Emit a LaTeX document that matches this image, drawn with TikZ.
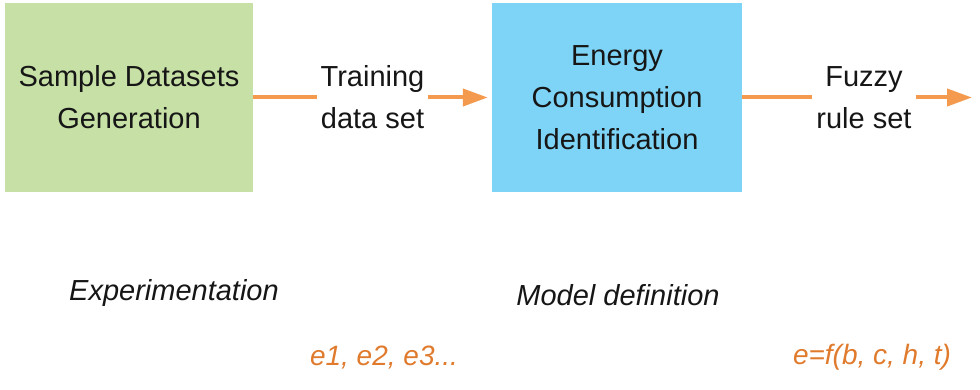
\documentclass[tikz,border=0pt]{standalone}
\usepackage{fontspec}
\setmainfont{Liberation Sans}
\usetikzlibrary{arrows.meta}

\definecolor{boxgreen}{HTML}{C6E0A6}
\definecolor{boxblue}{HTML}{7ED4F6}
\definecolor{flowline}{HTML}{F39A4E}
\definecolor{notetext}{HTML}{E07A2C}
\definecolor{ink}{HTML}{161616}

\tikzset{
  stage/.style={minimum height=189pt, inner sep=0pt, align=center,
    text=ink, font=\fontsize{29}{42}\selectfont},
  flow/.style={line width=4pt, draw=flowline,
    -{Triangle[length=25pt,width=17pt]}},
  flowlabel/.style={fill=white, inner xsep=4pt, inner ysep=0pt, align=center,
    text=ink, font=\fontsize{29}{42}\selectfont},
  phase/.style={anchor=base, text=ink, font=\fontsize{29}{35}\selectfont\itshape},
  note/.style={anchor=base, text=notetext, font=\fontsize{28}{34}\selectfont\itshape}
}

\begin{document}
\begin{tikzpicture}[x=1pt, y=1pt]
  \useasboundingbox (0,0) rectangle (980,389);

  % process stages
  \node[stage, fill=boxgreen, minimum width=248pt] (gen) at (129,291.5)
    {Sample Datasets\\Generation};
  \node[stage, fill=boxblue, minimum width=250pt] (ident) at (617,291.5)
    {Energy\\Consumption\\Identification};
  \coordinate (out) at (972,291.5);

  % data flow between the stages
  \draw[flow, shorten >=4pt] (gen.east) -- node[flowlabel] (train) {Training\\data set} (ident.west);
  \draw[flow] (ident.east) -- node[flowlabel, pos=0.53] (rules) {Fuzzy\\rule set} (out);

  % phase captions
  \node[phase] (exp) at (174,89) {Experimentation};
  \node[phase] (model) at (618,84) {Model definition};

  % outputs of each phase
  \node[note] (samples) at (384,24) {e1, e2, e3...};
  \node[note] (func) at (872,25) {e=f(b, c, h, t)};
\end{tikzpicture}
\end{document}
